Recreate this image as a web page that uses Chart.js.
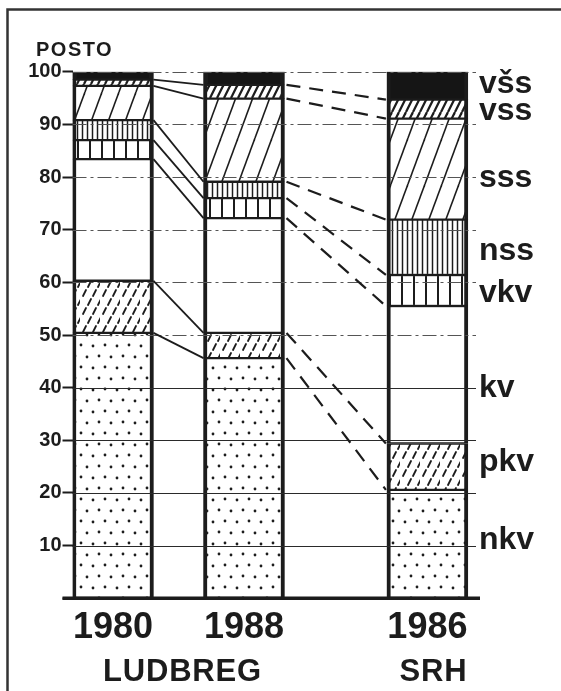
<!DOCTYPE html>
<html><head><meta charset="utf-8">
<script src="https://cdn.jsdelivr.net/npm/chart.js@4/dist/chart.umd.min.js"></script>
<style>html,body{margin:0;padding:0;background:#fff;}canvas{display:block;}</style>
</head><body>
<canvas id="c" width="561" height="691"></canvas>
<script>
// ---------- data ----------
const years = ['1980', '1988', '1986'];
const places = ['LUDBREG', 'SRH'];
const yAxisTitle = 'POSTO';
// series bottom -> top, labels as printed on the right
const seriesNames = ['nkv', 'pkv', 'kv', 'vkv', 'nss', 'sss', 'vss', 'všs'];
const nkv  = [50.4, 45.6, 20.6];
const pkv  = [9.9, 4.8, 8.8];
const kv   = [23.1, 21.8, 26.1];
const vkv  = [3.6, 3.8, 5.9];
const nss  = [3.8, 3.1, 10.5];
const sss  = [6.5, 15.8, 19.2];
const vssA = [1.2, 2.6, 3.6];
const vssB = [1.5, 2.5, 5.3];
const seriesValues = [nkv, pkv, kv, vkv, nss, sss, vssA, vssB];

// ---------- layout ----------
const slotPos = [0, 1, 2.4];                 // horizontal slots of the three bars
const labelAt = [10.9, 25.7, 39.8, 57.8, 65.8, 79.7, 92.4, 97.5]; // value level of right labels
const INK = '#1c1c1c';
const FONT = "'Liberation Sans', Arial, sans-serif";

const canvas = document.getElementById('c');
const mainCtx = canvas.getContext('2d');

function makePattern(w, h, draw) {
  const c = document.createElement('canvas');
  c.width = w; c.height = h;
  const g = c.getContext('2d');
  g.fillStyle = '#fff'; g.fillRect(0, 0, w, h);
  g.strokeStyle = INK; g.fillStyle = INK; g.lineCap = 'round';
  draw(g, w, h);
  return mainCtx.createPattern(c, 'repeat');
}
const patDots = makePattern(24, 22, g => {
  [[3, 4], [15, 5], [9, 15], [21, 16]].forEach(([x, y]) => { g.beginPath(); g.arc(x, y, 1.4, 0, Math.PI * 2); g.fill(); });
});
const patDash = makePattern(20, 18, g => {
  g.lineWidth = 1.8;
  [[3, 2], [13, 2], [8, 11], [18, 11]].forEach(([x, y]) => { g.beginPath(); g.moveTo(x, y + 6); g.lineTo(x + 3, y); g.stroke(); });
});
const patVSparse = makePattern(12, 4, g => { g.lineWidth = 2; g.lineCap = 'butt'; g.beginPath(); g.moveTo(6, 0); g.lineTo(6, 4); g.stroke(); });
const patVDense = makePattern(5, 4, g => { g.lineWidth = 1.5; g.lineCap = 'butt'; g.beginPath(); g.moveTo(2.5, 0); g.lineTo(2.5, 4); g.stroke(); });
const patDiag = makePattern(17, 46, g => {
  g.lineWidth = 1.6; g.lineCap = 'butt';
  [-17, 0, 17].forEach(o => { g.beginPath(); g.moveTo(o, 46); g.lineTo(o + 17, 0); g.stroke(); });
});
const patHatch = makePattern(7, 14, g => {
  g.lineWidth = 2.2; g.lineCap = 'butt';
  [-7, 0, 7].forEach(o => { g.beginPath(); g.moveTo(o, 14); g.lineTo(o + 7, 0); g.stroke(); });
});
const fills = [patDots, patDash, '#ffffff', patVSparse, patVDense, patDiag, patHatch, '#151515'];

const decor = {
  id: 'decor',
  beforeDraw(chart) {
    const c = chart.ctx;
    c.save(); c.fillStyle = '#fff'; c.fillRect(0, 0, chart.width, chart.height); c.restore();
  },
  afterDatasetsDraw(chart) {
    const c = chart.ctx, a = chart.chartArea, y = chart.scales.y;
    c.save();
    // grid lines over the bars
    for (let v = 10; v <= 100; v += 10) {
      const py = Math.round(y.getPixelForValue(v)) + 0.5;
      c.beginPath();
      c.setLineDash(v <= 40 ? [] : [14, 4, 3, 4]);
      c.strokeStyle = v <= 40 ? '#2a2a2a' : '#555';
      c.lineWidth = 1;
      c.moveTo(a.left, py); c.lineTo(a.right, py); c.stroke();
    }
    c.setLineDash([]);
    // base line
    const y0 = y.getPixelForValue(0);
    c.strokeStyle = INK; c.lineWidth = 3.5;
    c.beginPath(); c.moveTo(a.left - 10, y0); c.lineTo(a.right + 4, y0); c.stroke();
    // connectors between boundaries
    const els = chart.getDatasetMeta(0).data;
    const edge = j => ({ l: els[j].x - els[j].width / 2, r: els[j].x + els[j].width / 2 });
    const b = [0, 1, 2].map(edge);
    const cum = [0, 0, 0];
    c.strokeStyle = INK;
    for (let k = 0; k < seriesValues.length - 1; k++) {
      for (let j = 0; j < 3; j++) cum[j] += seriesValues[k][j];
      const p = cum.map(v => y.getPixelForValue(v));
      c.lineWidth = 1.8; c.setLineDash([]);
      c.beginPath(); c.moveTo(b[0].r, p[0]); c.lineTo(b[1].l, p[1]); c.stroke();
      c.lineWidth = 2.2; c.setLineDash([14, 9]);
      c.beginPath(); c.moveTo(b[1].r + 2, p[1]); c.lineTo(b[2].l - 1, p[2]); c.stroke();
    }
    c.restore();
  },
  afterDraw(chart) {
    const c = chart.ctx, y = chart.scales.y, x = chart.scales.x;
    c.save();
    // frame
    c.strokeStyle = '#333'; c.lineWidth = 2.5;
    c.beginPath(); c.moveTo(7.5, 691); c.lineTo(7.5, 9.5); c.lineTo(561, 9.5); c.stroke();
    c.fillStyle = INK;
    // axis title
    c.font = `bold 20px ${FONT}`; c.textAlign = 'left'; c.textBaseline = 'alphabetic';
    c.letterSpacing = '1.5px';
    c.fillText(yAxisTitle, 36, 56);
    // right labels
    c.letterSpacing = '0px';
    c.font = `bold 32px ${FONT}`;
    seriesNames.forEach((n, i) => {
      c.fillText(n, 479, y.getPixelForValue(labelAt[i]) + 8.5);
    });
    // place names
    c.font = `bold 31px ${FONT}`; c.textAlign = 'center'; c.letterSpacing = '0.8px';
    const mid1 = (x.getPixelForValue(slotPos[0]) + x.getPixelForValue(slotPos[1])) / 2 + 4;
    c.fillText(places[0], mid1, 681);
    c.fillText(places[1], x.getPixelForValue(slotPos[2]) + 6, 681);
    c.restore();
  }
};

new Chart(mainCtx, {
  type: 'bar',
  data: {
    datasets: seriesValues.map((vals, i) => ({
      label: seriesNames[i],
      data: vals.map((v, j) => ({ x: slotPos[j], y: v })),
      backgroundColor: fills[i],
      borderColor: INK,
      borderWidth: { top: 1.5, bottom: 1.5, left: 4, right: 4 },
      borderSkipped: false,
      barThickness: 81
    }))
  },
  options: {
    responsive: false,
    animation: false,
    devicePixelRatio: 1,
    layout: { padding: { top: 71.7, right: 85, bottom: 0, left: 0 } },
    plugins: { legend: { display: false }, tooltip: { enabled: false }, title: { display: false } },
    scales: {
      x: {
        type: 'linear', min: -0.309, max: 2.771, stacked: true, offset: false,
        grid: { display: false, drawTicks: false }, border: { display: false },
        afterBuildTicks: s => { s.ticks = slotPos.map(v => ({ value: v })); },
        afterFit: s => { s.height = 92.7; },
        ticks: {
          autoSkip: false, maxRotation: 0, padding: 8, color: INK,
          font: { family: FONT, size: 36, weight: 'bold' },
          callback: (v, i) => years[i]
        }
      },
      y: {
        min: 0, max: 100, stacked: true,
        afterFit: s => { s.width = 72.5; },
        border: { display: false },
        grid: { drawOnChartArea: false, drawTicks: true, tickLength: 10, tickWidth: 2, tickColor: INK },
        ticks: { stepSize: 10, padding: 1, color: INK, font: { family: FONT, size: 20, weight: 'bold' },
          callback: v => v === 0 ? '' : String(v) }
      }
    }
  },
  plugins: [decor]
});
</script>
</body></html>
